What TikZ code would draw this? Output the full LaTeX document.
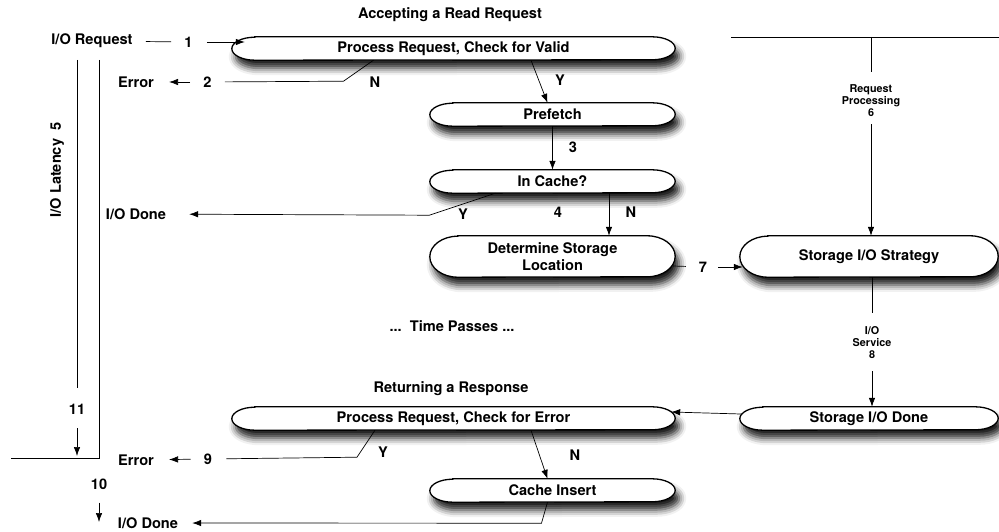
\documentclass[tikz,border=0pt]{standalone}
\usepackage{fontspec}
\setmainfont{TeX Gyre Heros}
\usetikzlibrary{arrows.meta,shadows.blur,backgrounds}

\tikzset{
  proc/.style={rectangle, font=\bfseries\fontsize{14.6}{17}\selectfont, align=center,
    inner sep=0pt, minimum height=23pt},
  capsule/.style={draw, line width=1.3pt, fill=white,
    blur shadow={shadow xshift=4pt, shadow yshift=-8pt,
      shadow blur radius=7pt, shadow opacity=90}},
  lbl/.style={font=\bfseries\fontsize{14.6}{17}\selectfont, inner sep=2pt},
  note/.style={font=\bfseries\fontsize{10.8}{12}\selectfont, align=center, inner sep=2pt},
  flow/.style={-{Latex[length=9pt,width=6.5pt]}, line width=0.7pt},
  wire/.style={line width=0.7pt},
}

\begin{document}
\begin{tikzpicture}[x=1pt, y=-1pt]

    \useasboundingbox (0,0) rectangle (999,532);

    % Define nodes
    \node[lbl]  (acctitle) at (450,15)  {Accepting a Read Request};
    \node[lbl]  (ioreq)    at (92,41)   {I/O Request};
    \node[lbl]  (n1)       at (188.5,42) {1};
    \node[proc, minimum width=397pt] (chkvalid) at (453.5,48.5) {\raisebox{-2pt}{Process Request, Check for Valid}};

    \node[lbl]  (err1)     at (136,82)  {Error};
    \node[lbl]  (n2)       at (207.5,82) {2};
    \node[lbl]  (no1)      at (375,82)  {N};
    \node[lbl]  (yes1)     at (560,80)  {Y};

    \node[proc, minimum width=199pt] (prefetch) at (552.5,114.5) {Prefetch};
    \node[lbl]  (n3)       at (573,147) {3};
    \node[proc, minimum width=199pt] (incache)  at (552.5,181.5) {In Cache?};

    \node[lbl]  (done1)    at (136,214) {I/O Done};
    \node[lbl]  (yes2)     at (463,214) {Y};
    \node[lbl]  (n4)       at (558,212) {4};
    \node[lbl]  (no2)      at (631,212) {N};

    \node[proc, minimum width=189pt, minimum height=41pt] (determine) at (552.5,256.5) {Determine Storage\\Location};
    \node[lbl]  (n7)       at (703,267) {7};
    \node[proc, minimum width=202pt, minimum height=41pt] (strategy)  at (869,256.5) {Storage I/O Strategy};

    \coordinate (topl) at (731,37);
    \coordinate (topr) at (999,37);
    \node[note] (reqproc)  at (871,101) {Request\\Processing\\6};
    \node[note] (iosvc)    at (872,343) {I/O\\Service\\8};

    \node[lbl]  (timep)    at (452,326) {...\ \ Time Passes ...};
    \node[lbl]  (rettitle) at (451,389) {Returning a Response};

    \node[proc, minimum width=397pt] (chkerror) at (453.5,418.5) {\raisebox{-2pt}{Process Request, Check for Error}};
    \node[proc, minimum width=212pt] (siodone)  at (869,418.5)   {Storage I/O Done};

    \node[lbl]  (err2)     at (136,460) {Error};
    \node[lbl]  (n9)       at (208,459) {9};
    \node[lbl]  (yes3)     at (383,452) {Y};
    \node[lbl]  (no3)      at (575,455) {N};

    \node[proc, minimum width=199pt] (cacheins) at (552.5,490.5) {Cache Insert};
    \node[lbl]  (done2)    at (148,523) {I/O Done};

    % Latency bars on the left
    \node[lbl, rotate=90] (latency) at (57,170) {I/O Latency\ \ 5};
    \node[lbl]  (n11)      at (77,409)  {11};
    \node[lbl]  (n10)      at (99,484)  {10};
    \coordinate (outtop)  at (77,60);
    \coordinate (intop)   at (99,60);
    \coordinate (basel)   at (11,458);
    \coordinate (baser)   at (99,458);
    \coordinate (tenend)  at (99,522);

    % Capsule outlines behind the steps
    \begin{scope}[on background layer]
      \foreach \proc/\rx/\ry in {chkvalid/23pt/11.5pt, prefetch/23pt/11.5pt,
          incache/23pt/11.5pt, determine/28pt/20.5pt, strategy/28pt/20.5pt,
          chkerror/23pt/11.5pt, siodone/23pt/11.5pt, cacheins/23pt/11.5pt}
        \path[capsule] (\proc.north west) -- (\proc.north east)
          arc[start angle=90, end angle=-90, x radius=\rx, y radius=\ry]
          -- (\proc.south west)
          arc[start angle=270, end angle=90, x radius=\rx, y radius=\ry] -- cycle;
    \end{scope}

    % Connect the nodes
    \draw[wire, shorten <=11pt, shorten >=11pt] (ioreq) -- (n1);
    \draw[flow, shorten <=12pt] (n1.east) -- ([xshift=-10pt]n1.east -| chkvalid.north west);

    \draw[wire, shorten >=11pt] ([xshift=-80pt]chkvalid.south) -- ++(-30,21) -- (n2);
    \draw[flow, shorten <=11pt, shorten >=13pt] (n2) -- (err1);
    \draw[flow] ([xshift=77.5pt]chkvalid.south) -- ([xshift=-5pt]prefetch.north);

    \draw[flow] (prefetch) -- (incache);
    \draw[flow, shorten >=21pt] ([xshift=-57pt]incache.south) -- ++(-66,22) -- (done1);
    \draw[flow] ([xshift=56.5pt]incache.south) -- ([xshift=56.5pt]determine.north);

    \draw[wire, shorten >=11pt] ([xshift=26pt,yshift=-9.5pt]determine.east) -- (n7);
    \draw[flow, shorten <=9pt] (n7) -- ([xshift=-25pt]n7 -| strategy.west);

    \draw[wire] (topl) -- (topr);
    \draw[wire, shorten >=11pt] (topl -| reqproc) -- (reqproc);
    \draw[flow, shorten <=5pt] (reqproc) -- (reqproc |- strategy.north);
    \draw[wire, shorten >=12pt] (strategy.south -| iosvc) -- (iosvc);
    \draw[flow, shorten <=10pt] (iosvc) -- (iosvc |- siodone.north);

    \draw[flow] ([xshift=-22pt,yshift=4.5pt]siodone.west) -- ([xshift=19pt,yshift=6.5pt]chkerror.east);
    \draw[wire, shorten >=12pt] ([xshift=-78.5pt]chkerror.south) -- ++(-18,27) -- (n9);
    \draw[flow, shorten <=11pt, shorten >=13pt] (n9) -- (err2);
    \draw[flow] ([xshift=77.5pt]chkerror.south) -- ([xshift=-5pt]cacheins.north);
    \draw[flow, shorten >=12pt] ([xshift=-5pt]cacheins.south) -- ++(-6,21) -- (done2);

    \draw[wire, shorten >=14pt] (outtop) -- (n11);
    \draw[flow, shorten <=12pt, shorten >=2pt] (n11) -- (n11 |- baser);
    \draw[wire] (intop) -- (baser) -- (basel);
    \draw[flow, shorten <=11pt] (n10) -- (tenend);

  \end{tikzpicture}
\end{document}
